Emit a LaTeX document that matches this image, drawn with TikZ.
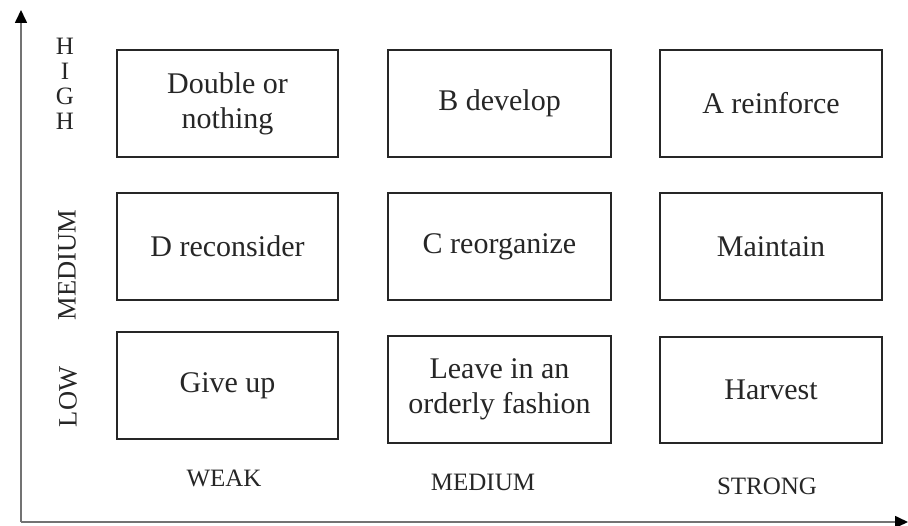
\documentclass[tikz,border=0pt]{standalone}
\usepackage{fontspec}
\setmainfont{Liberation Serif}
\usetikzlibrary{arrows.meta}
\begin{document}
\begin{tikzpicture}[x=1pt,y=-1pt,
  cell/.style={draw=black!85,line width=1.7pt,inner sep=0pt,align=center,text=black!85,font=\fontsize{30}{35}\selectfont},
  axlab/.style={font=\fontsize{25}{28}\selectfont,text=black!85,inner sep=0pt},
  vlab/.style={font=\fontsize{26.5}{28}\selectfont,text=black!85,inner sep=0pt,rotate=90},
  axis/.style={draw=black!55,line width=1.6pt,-{Triangle[length=13pt,width=12pt,color=black]}}]
\useasboundingbox (0,0) rectangle (908,526);
\coordinate (o) at (21,522);
\coordinate (ytop) at (21,10);
\coordinate (xend) at (908,522);
\draw[axis] (o) -- (ytop);
\draw[axis] (o) -- (xend);
% boxes
\node[cell,minimum width=221pt,minimum height=107pt] (b11) at (227.5,103.5) {Double or\\nothing};
\node[cell,minimum width=223pt,minimum height=107pt] (b12) at (499.5,103.5) {B develop};
\node[cell,minimum width=222pt,minimum height=107pt] (b13) at (771,103.5) {A reinforce};
\node[cell,minimum width=221pt,minimum height=107pt] (b21) at (227.5,246.5) {D reconsider};
\node[cell,minimum width=223pt,minimum height=107pt] (b22) at (499.5,246.5) {C reorganize};
\node[cell,minimum width=222pt,minimum height=107pt] (b23) at (771,246.5) {Maintain};
\node[cell,minimum width=221pt,minimum height=107pt] (b31) at (227.5,385.5) {Give up};
\node[cell,minimum width=223pt,minimum height=107pt] (b32) at (499.5,389.5) {Leave in an\\orderly fashion};
\node[cell,minimum width=222pt,minimum height=106pt] (b33) at (771,390) {Harvest};
% y labels
\node[axlab] (h1) at (65,46) {H};
\node[axlab] (h2) at (65,71) {I};
\node[axlab] (h3) at (65,96) {G};
\node[axlab] (h4) at (65,121) {H};
\node[vlab] (ymed) at (67,265) {MEDIUM};
\node[vlab] (ylow) at (68,397) {LOW};
% x labels
\node[axlab] (xweak) at (224,478) {WEAK};
\node[axlab] (xmed) at (483,482) {MEDIUM};
\node[axlab] (xstr) at (767,486) {STRONG};
\end{tikzpicture}
\end{document}
